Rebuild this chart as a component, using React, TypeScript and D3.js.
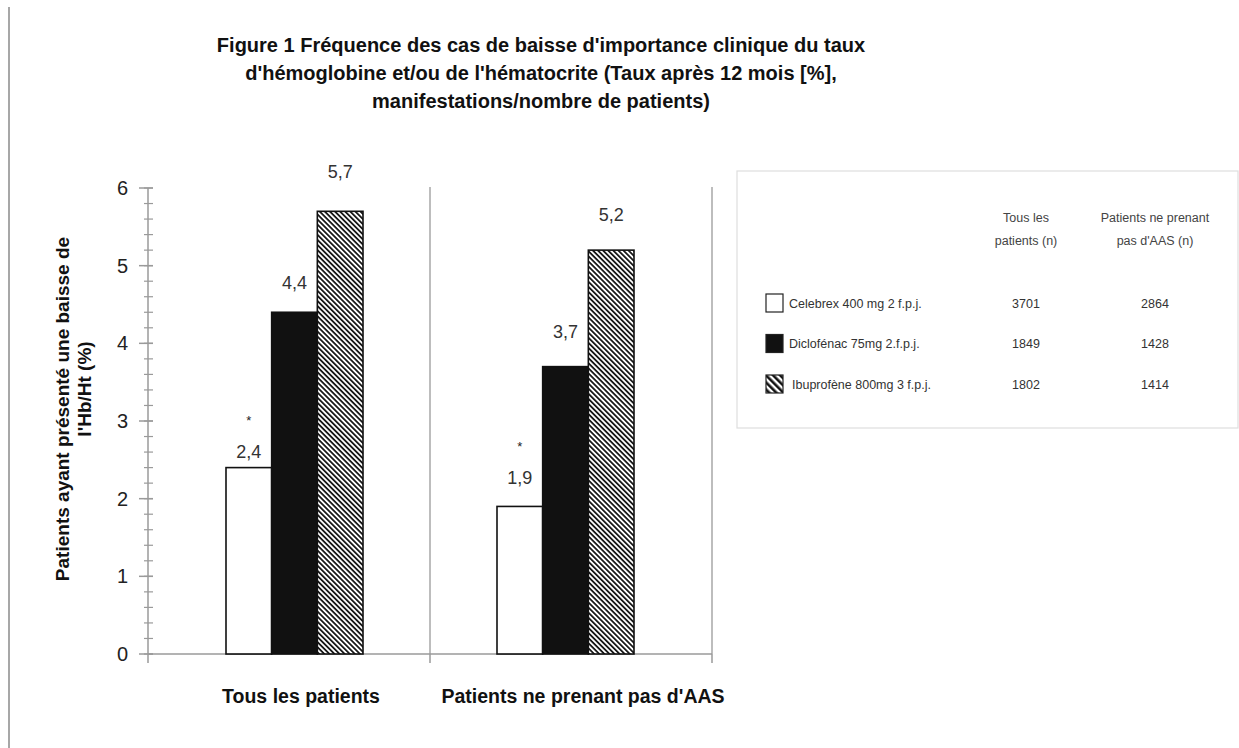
import React, { useEffect } from 'react';
import * as d3 from 'd3';

const groups = ['Tous les patients', "Patients ne prenant pas d'AAS"];
const treatments = ['Celebrex 400 mg 2 f.p.j.', 'Diclofénac 75mg 2.f.p.j.', 'Ibuprofène 800mg 3 f.p.j.'];
const allPatients = [2.4, 4.4, 5.7];
const noAAS = [1.9, 3.7, 5.2];
const starred = [true, false, false];
const nAll = ['3701', '1849', '1802'];
const nNoAAS = ['2864', '1428', '1414'];
const yTicks = [0, 1, 2, 3, 4, 5, 6];
const legendHeads = [['Tous les', 'patients (n)'], ['Patients ne prenant', "pas d'AAS (n)"]];
const titleLines = [
  "Figure 1 Fréquence des cas de baisse d'importance clinique du taux",
  "d'hémoglobine et/ou de l'hématocrite (Taux après 12 mois [%],",
  'manifestations/nombre de patients)',
];
const yLabel = ['Patients ayant présenté une baisse de', "l'Hb/Ht (%)"];

// the original puts its value labels at uneven heights above the bars
const labelLift = [[16, 29, 39], [28, 35, 35]];

const W = 1239;
const H = 748;
const font = '"Liberation Sans", Arial, sans-serif';
const fills = ['#fff', '#111', 'url(#hatch)'];
const legendFills = ['#fff', '#111', 'url(#hatchBig)'];

const fmt = d3.formatLocale({ decimal: ',', thousands: ' ', grouping: [3], currency: ['', ''] }).format('.1f');

const App: React.FC = () => {
  useEffect(() => {
    document.body.style.margin = '0';
  }, []);

  const series = [allPatients, noAAS];
  const y = d3.scaleLinear().domain([0, 6]).range([654, 188]);
  const x = d3.scaleBand<string>().domain(groups).range([148, 712]);
  const xBars = d3.scaleBand<string>().domain(groups).range([159, 701]);
  const inner = d3.scaleBand<string>().domain(treatments).range([0, 137]);
  const minor = y.ticks(30);
  const axisColor = '#9a9a9a';
  const col = [1026, 1155];

  return (
    <svg width={W} height={H} style={{ display: 'block', background: '#fff' }} fontFamily={font}>
      <defs>
        <pattern id="hatch" width={3.6} height={3.6} patternUnits="userSpaceOnUse" patternTransform="rotate(-45)">
          <rect width={3.6} height={3.6} fill="#fff" />
          <line x1={0.9} y1={0} x2={0.9} y2={3.6} stroke="#1a1a1a" strokeWidth={1.8} />
        </pattern>
        <pattern id="hatchBig" width={5} height={5} patternUnits="userSpaceOnUse" patternTransform="rotate(-45)">
          <rect width={5} height={5} fill="#fff" />
          <line x1={1.3} y1={0} x2={1.3} y2={5} stroke="#151515" strokeWidth={2.6} />
        </pattern>
      </defs>

      <line x1={9} y1={7} x2={9} y2={H} stroke="#8a8a8a" strokeWidth={1.5} />

      {titleLines.map((t, i) => (
        <text key={i} x={541} y={52 + i * 28} textAnchor="middle" fontSize={20} fontWeight="bold" fill="#111">
          {t}
        </text>
      ))}

      {/* category separators */}
      {[...groups.map((g) => x(g)!), 712].map((gx, i) => (
        <g key={i}>
          {i > 0 && <line x1={gx} y1={y(6) - 1} x2={gx} y2={y(0)} stroke="#bdbdbd" strokeWidth={2} />}
          <line x1={gx} y1={y(0)} x2={gx} y2={y(0) + 9} stroke={axisColor} strokeWidth={1.5} />
        </g>
      ))}

      {/* y axis */}
      <line x1={148} y1={y(6)} x2={148} y2={y(0)} stroke={axisColor} strokeWidth={1.5} />
      {minor.map((v) => (
        <line key={v} x1={144} x2={153} y1={y(v)} y2={y(v)} stroke={axisColor} strokeWidth={1.2} />
      ))}
      {yTicks.map((v) => (
        <g key={v}>
          <line x1={139} x2={153} y1={y(v)} y2={y(v)} stroke={axisColor} strokeWidth={1.5} />
          <text x={128} y={y(v) + 7} textAnchor="end" fontSize={20} fill="#222">
            {v}
          </text>
        </g>
      ))}
      <line x1={148} y1={y(0)} x2={712} y2={y(0)} stroke={axisColor} strokeWidth={1.5} />

      {/* bars */}
      {groups.map((g, gi) => {
        const x0 = xBars(g)! + xBars.bandwidth() / 2 - 68.5;
        return (
          <g key={g}>
            {treatments.map((t, ti) => {
              const v = series[gi][ti];
              const bx = x0 + inner(t)!;
              const cy = y(v) - labelLift[gi][ti];
              return (
                <g key={t}>
                  <rect
                    x={bx}
                    y={y(v)}
                    width={inner.bandwidth()}
                    height={y(0) - y(v)}
                    fill={fills[ti]}
                    stroke="#111"
                    strokeWidth={1.6}
                  />
                  <text x={bx + inner.bandwidth() / 2} y={cy + 6} textAnchor="middle" fontSize={18} fill="#333">
                    {fmt(v)}
                  </text>
                  {starred[ti] && (
                    <text x={bx + inner.bandwidth() / 2} y={cy - 27} textAnchor="middle" fontSize={13} fill="#222">
                      *
                    </text>
                  )}
                </g>
              );
            })}
          </g>
        );
      })}

      {groups.map((g) => (
        <text key={g} x={x(g)! + x.bandwidth() / 2 + 12} y={703} textAnchor="middle" fontSize={19.5} fontWeight="bold" fill="#111">
          {g}
        </text>
      ))}

      {/* y axis title */}
      <g transform="translate(62,409) rotate(-90)">
        <text textAnchor="middle" dy="0.35em" fontSize={19} fontWeight="bold" fill="#111">
          {yLabel[0]}
        </text>
      </g>
      <g transform="translate(84,389) rotate(-90)">
        <text textAnchor="middle" dy="0.35em" fontSize={19} fontWeight="bold" fill="#111">
          {yLabel[1]}
        </text>
      </g>

      {/* legend table */}
      <rect x={737} y={171} width={501} height={257} fill="#fff" stroke="#dedede" strokeWidth={1.2} />
      {legendHeads.map((lines, ci) =>
        lines.map((l, li) => (
          <text key={`${ci}-${li}`} x={col[ci]} y={222 + li * 23} textAnchor="middle" fontSize={12.5} fill="#444">
            {l}
          </text>
        ))
      )}
      {treatments.map((t, i) => {
        const ry = 303 + i * 40.5;
        return (
          <g key={t}>
            <rect x={766} y={ry - 9} width={17} height={18} fill={legendFills[i]} stroke="#222" strokeWidth={1.2} />
            <text x={789 + (i === 2 ? 3 : 0)} y={ry + 4.5} fontSize={12.5} fill="#333">
              {t}
            </text>
            <text x={col[0]} y={ry + 4.5} textAnchor="middle" fontSize={12.5} fill="#333">
              {nAll[i]}
            </text>
            <text x={col[1]} y={ry + 4.5} textAnchor="middle" fontSize={12.5} fill="#333">
              {nNoAAS[i]}
            </text>
          </g>
        );
      })}
    </svg>
  );
};

export default App;
